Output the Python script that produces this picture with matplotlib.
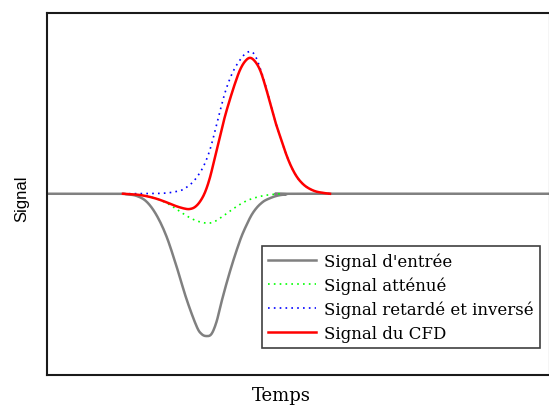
import numpy as np
import matplotlib
matplotlib.use("Agg")
import matplotlib.pyplot as plt

# Courbes (temps en unites arbitraires, signal normalise)
t_entree = [0, 7.0, 8.0, 9.0, 10.0, 11.0, 12.0, 13.0, 14.0, 15.0, 15.5, 16.0, 16.5, 17.0,
            17.5, 18.0, 18.5, 19.0, 19.5, 20.0, 20.5, 21.0, 21.5, 22.0, 23.0, 24.0, 25.0, 50.3]
y_entree = [0, 0, -0.004, -0.015, -0.055, -0.15, -0.30, -0.51, -0.74, -0.93, -0.985, -1.0,
            -0.985, -0.90, -0.76, -0.63, -0.51, -0.40, -0.30, -0.22, -0.15, -0.10, -0.065,
            -0.042, -0.015, -0.004, 0, 0]

t_attenue = [7.65, 9.0, 10.0, 11.0, 12.0, 13.0, 14.0, 15.0, 16.0, 16.5, 17.0, 18.0, 19.0,
             20.0, 21.0, 22.0, 23.35]
y_attenue = [0, -0.006, -0.015, -0.035, -0.065, -0.108, -0.155, -0.19, -0.207, -0.203,
             -0.188, -0.14, -0.09, -0.05, -0.025, -0.01, 0]

t_retarde = [7.65, 11.0, 12.35, 13.5, 14.0, 14.68, 15.35, 15.85, 16.35, 16.85, 17.35, 17.85,
             18.35, 18.85, 19.35, 19.85, 20.45, 20.9, 21.35, 21.85, 22.35, 22.85, 23.35,
             23.85, 24.35, 24.85, 25.35, 26.0, 26.85, 27.68, 28.35]
y_retarde = [0, 0.002, 0.008, 0.025, 0.045, 0.085, 0.149, 0.215, 0.31, 0.44, 0.58, 0.71,
             0.81, 0.885, 0.94, 0.982, 1.0, 0.965, 0.885, 0.775, 0.645, 0.515, 0.405, 0.30,
             0.21, 0.14, 0.09, 0.048, 0.018, 0.006, 0]

t_cfd = [7.65, 9.0, 10.0, 11.0, 12.0, 13.0, 13.85, 14.35, 14.85, 15.35, 15.85, 16.35, 16.85,
         17.35, 17.85, 18.35, 18.85, 19.35, 19.85, 20.35, 20.85, 21.35, 21.85, 22.35, 22.85,
         23.35, 23.85, 24.35, 24.85, 25.35, 26.0, 26.85, 27.68, 28.35]
y_cfd = [0, -0.006, -0.017, -0.035, -0.06, -0.088, -0.105, -0.107, -0.093, -0.055, 0.01,
         0.115, 0.26, 0.405, 0.545, 0.665, 0.775, 0.87, 0.93, 0.955, 0.93, 0.87, 0.765,
         0.64, 0.513, 0.405, 0.30, 0.21, 0.14, 0.09, 0.048, 0.018, 0.006, 0]

labels = ["Signal d'entrée", "Signal atténué", "Signal retardé et inversé", "Signal du CFD"]


def lisse(t, y, n=10):
    # Catmull-Rom entre les points lus, juste pour le rendu
    P = np.column_stack([t, y]).astype(float)
    P = np.vstack([P[0], P, P[-1]])
    s = np.linspace(0, 1, n, endpoint=False)[:, None]
    out = []
    for i in range(1, len(P) - 2):
        p0, p1, p2, p3 = P[i - 1], P[i], P[i + 1], P[i + 2]
        out.append(0.5 * (2 * p1 + (p2 - p0) * s + (2 * p0 - 5 * p1 + 4 * p2 - p3) * s**2
                          + (3 * p1 - p0 - 3 * p2 + p3) * s**3))
    out.append(P[-2][None, :])
    c = np.vstack(out)
    return c[:, 0], c[:, 1]


fig = plt.figure(figsize=(5.49, 4.10), dpi=100)
ax = fig.add_axes([46.5/549, (410-375.5)/410, 503/549, 361.5/410])

ax.plot(*lisse(t_entree, y_entree), color='#808080', lw=1.8, label=labels[0])
ax.plot(*lisse(t_attenue, y_attenue), color='#00ff00', lw=1.2, ls=(0, (1, 2.5)), label=labels[1])
ax.plot(*lisse(t_retarde, y_retarde), color='#0000ff', lw=1.2, ls=(0, (1, 2.5)), label=labels[2])
ax.plot(*lisse(t_cfd, y_cfd), color='#ff0000', lw=1.8, label=labels[3])

ax.set_xlim(0, 50.3)
ax.set_ylim(-1.27, 1.27)
ax.set_xticks([])
ax.set_yticks([])
for s in ax.spines.values():
    s.set_linewidth(1.5)
    s.set_color('#1a1a1a')

ax.set_xlabel("Temps", family='DejaVu Serif', fontsize=13)
ax.xaxis.set_label_coords(0.466, -0.033)
ax.set_ylabel("Signal", family='Liberation Sans', fontsize=12)
ax.yaxis.set_label_coords(-0.035, 0.488)

leg = ax.legend(loc='upper left', bbox_to_anchor=(0.428, 0.3555), borderaxespad=0,
                prop={'family': 'DejaVu Serif', 'size': 12.0}, handlelength=2.87,
                handletextpad=0.45, labelspacing=0.39, borderpad=0.4,
                fancybox=False, framealpha=1)
leg.get_frame().set_edgecolor('#404040')
leg.get_frame().set_linewidth(1.2)

fig.savefig("out.png", dpi=100)
